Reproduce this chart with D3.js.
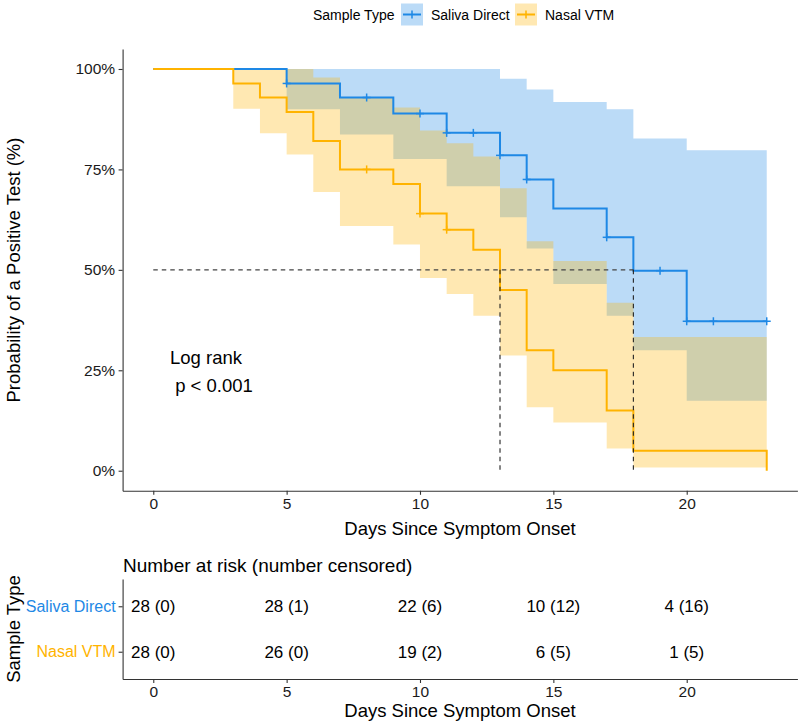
<!DOCTYPE html>
<html><head><meta charset="utf-8">
<script src="https://cdn.jsdelivr.net/npm/d3@7"></script>
<style>body{margin:0;background:#fff} svg{display:block;font-family:"Liberation Sans",Arial,Helvetica,sans-serif}</style>
</head><body><svg id="c" width="800" height="724"></svg>
<script>
// ---------------- data ----------------
const strata = ["Saliva Direct", "Nasal VTM"];
const colors = ["#1E88E5", "#FFB300"];

const salivaTime  = [0, 5, 7, 9, 11, 13, 14, 15, 17, 18, 20, 23];
const salivaSurv  = [1, 0.964, 0.929, 0.889, 0.841, 0.785, 0.725, 0.653, 0.581, 0.498, 0.372, 0.372];
const salivaUpper = [1, 1, 1, 1, 1, 0.976, 0.949, 0.918, 0.90, 0.827, 0.798, 0.798];
const salivaLower = [1, 0.90, 0.837, 0.776, 0.708, 0.631, 0.553, 0.465, 0.386, 0.30, 0.174, 0.174];
const salivaCensor = [5, 8, 10, 11, 12, 13, 14, 17, 19, 20, 21, 23];

const nasalTime  = [0, 3, 4, 5, 6, 7, 9, 10, 11, 12, 13, 14, 15, 17, 18, 23];
const nasalSurv  = [1, 0.964, 0.929, 0.893, 0.821, 0.75, 0.714, 0.64, 0.60, 0.55, 0.45, 0.30, 0.25, 0.15, 0.05, 0];
const nasalUpper = [1, 1, 1, 1, 0.979, 0.93, 0.904, 0.847, 0.815, 0.782, 0.703, 0.571, 0.522, 0.418, 0.333, 0.333];
const nasalLower = [1, 0.901, 0.840, 0.787, 0.694, 0.609, 0.563, 0.480, 0.44, 0.386, 0.287, 0.158, 0.120, 0.055, 0.008, 0.008];
const nasalCensor = [8, 10, 11];

const medianTimes = [13, 18];

const xTicks = [0, 5, 10, 15, 20];
const yTicks = [0, 0.25, 0.5, 0.75, 1];

const riskTimes = [0, 5, 10, 15, 20];
const salivaAtRisk = [28, 28, 22, 10, 4];
const salivaCensored = [0, 1, 6, 12, 16];
const nasalAtRisk = [28, 26, 19, 6, 1];
const nasalCensored = [0, 0, 2, 5, 5];

// ---------------- build ----------------
const series = [
  {name: strata[0], color: colors[0], t: salivaTime, s: salivaSurv, u: salivaUpper, l: salivaLower, c: salivaCensor},
  {name: strata[1], color: colors[1], t: nasalTime, s: nasalSurv, u: nasalUpper, l: nasalLower, c: nasalCensor}
];
const svg = d3.select("#c");
const axisCol = "#333333";

const x = d3.scaleLinear().domain([-1.15, 24.15]).range([122.6, 797.4]);
const y = d3.scaleLinear().domain([-0.05, 1.05]).range([490.8, 48.9]);

function survAt(sr, t) {
  let v = sr.s[0];
  for (let i = 0; i < sr.t.length; i++) if (sr.t[i] <= t) v = sr.s[i];
  return v;
}

// ribbons
series.forEach(sr => {
  const pts = sr.t.map((t, i) => ({t, u: sr.u[i], l: sr.l[i]}));
  const area = d3.area().x(d => x(d.t)).y0(d => y(d.l)).y1(d => y(d.u)).curve(d3.curveStepAfter);
  svg.append("path").attr("d", area(pts)).attr("fill", sr.color).attr("fill-opacity", 0.3);
});

// lines
series.forEach(sr => {
  const pts = sr.t.map((t, i) => ({t, s: sr.s[i]}));
  const line = d3.line().x(d => x(d.t)).y(d => y(d.s)).curve(d3.curveStepAfter);
  svg.append("path").attr("d", line(pts)).attr("fill", "none").attr("stroke", sr.color).attr("stroke-width", 2);
});

// censor marks
series.forEach(sr => {
  const g = svg.append("g").attr("stroke", sr.color).attr("stroke-width", 1.5);
  sr.c.forEach(t => {
    const cx = x(t), cy = y(survAt(sr, t));
    g.append("line").attr("x1", cx - 4).attr("x2", cx + 4).attr("y1", cy).attr("y2", cy);
    g.append("line").attr("x1", cx).attr("x2", cx).attr("y1", cy - 4).attr("y2", cy + 4);
  });
});

// median lines
svg.append("line").attr("x1", x(0)).attr("x2", x(d3.max(medianTimes))).attr("y1", y(0.5)).attr("y2", y(0.5))
  .attr("stroke", "#444").attr("stroke-width", 1.1).attr("stroke-dasharray", "4.5,4");
medianTimes.forEach(t => {
  svg.append("line").attr("x1", x(t)).attr("x2", x(t)).attr("y1", y(0.5)).attr("y2", y(0))
    .attr("stroke", "#222").attr("stroke-width", 1.1).attr("stroke-dasharray", "4.5,4");
});

// axes
function styleAxis(g, fs) {
  g.selectAll("path.domain").attr("stroke", axisCol).attr("stroke-width", 1.1);
  g.selectAll(".tick line").attr("stroke", axisCol).attr("stroke-width", 1.1);
  g.selectAll(".tick text").attr("fill", "#1a1a1a").style("font-size", fs + "px").style("font-family", "'Liberation Sans',Arial,sans-serif");
}
const gx = svg.append("g").attr("transform", "translate(0,490.8)")
  .call(d3.axisBottom(x).tickValues(xTicks).tickSize(4).tickSizeOuter(0).tickPadding(3));
styleAxis(gx, 15.5);
const gy = svg.append("g").attr("transform", "translate(122.6,0)")
  .call(d3.axisLeft(y).tickValues(yTicks).tickFormat(d3.format(".0%")).tickSize(4).tickSizeOuter(0).tickPadding(3.5));
styleAxis(gy, 15.5);

svg.append("text").attr("x", 460).attr("y", 535).attr("text-anchor", "middle")
  .style("font-size", "18.5px").attr("fill", "#000").text("Days Since Symptom Onset");
svg.append("text").attr("transform", "translate(20,270) rotate(-90)").attr("text-anchor", "middle")
  .style("font-size", "18.5px").attr("fill", "#000").text("Probability of a Positive Test (%)");

// p-value
svg.append("text").attr("x", 170).attr("y", 364).style("font-size", "18.5px").text("Log rank");
svg.append("text").attr("x", 170).attr("y", 391.5).style("font-size", "18.5px").attr("xml:space", "preserve").text(" p < 0.001");

// legend
const lg = svg.append("g");
lg.append("text").attr("x", 313).attr("y", 19.5).style("font-size", "14px").text("Sample Type");
const legX = [401, 515], legTX = [431, 545];
series.forEach((sr, i) => {
  lg.append("rect").attr("x", legX[i]).attr("y", 3.5).attr("width", 22).attr("height", 22)
    .attr("fill", sr.color).attr("fill-opacity", 0.3);
  lg.append("line").attr("x1", legX[i] + 2).attr("x2", legX[i] + 20).attr("y1", 14.5).attr("y2", 14.5)
    .attr("stroke", sr.color).attr("stroke-width", 2);
  lg.append("line").attr("x1", legX[i] + 11).attr("x2", legX[i] + 11).attr("y1", 10.5).attr("y2", 18.5)
    .attr("stroke", sr.color).attr("stroke-width", 1.5);
  lg.append("text").attr("x", legTX[i]).attr("y", 19.5).style("font-size", "14px").text(sr.name);
});

// ---------------- risk table ----------------
const x2 = d3.scaleLinear().domain([-1.15, 24.15]).range([122.6, 797.4]);
const ry = d3.scalePoint().domain(strata).range([579, 679]).padding(0.6);
svg.append("text").attr("x", 123).attr("y", 572).style("font-size", "19px").text("Number at risk (number censored)");

const riskRows = [
  {name: strata[0], atRisk: salivaAtRisk, cens: salivaCensored, color: colors[0]},
  {name: strata[1], atRisk: nasalAtRisk, cens: nasalCensored, color: colors[1]}
];
riskRows.forEach(r => {
  riskTimes.forEach((t, i) => {
    svg.append("text").attr("x", x2(t)).attr("y", ry(r.name)).attr("dy", "0.36em")
      .attr("text-anchor", "middle").style("font-size", "17px").attr("fill", "#000")
      .text(`${r.atRisk[i]} (${r.cens[i]})`);
  });
});
const gx2 = svg.append("g").attr("transform", "translate(0,679)")
  .call(d3.axisBottom(x2).tickValues(xTicks).tickSize(4).tickSizeOuter(0).tickPadding(3));
styleAxis(gx2, 15.5);
const gy2 = svg.append("g").attr("transform", "translate(122.6,0)")
  .call(d3.axisLeft(ry).tickSize(4).tickSizeOuter(0).tickPadding(3));
styleAxis(gy2, 16);
gy2.selectAll(".tick text").attr("fill", (d, i) => colors[i]);
svg.append("text").attr("x", 460).attr("y", 717).attr("text-anchor", "middle")
  .style("font-size", "18.5px").attr("fill", "#000").text("Days Since Symptom Onset");
svg.append("text").attr("transform", "translate(20,629) rotate(-90)").attr("text-anchor", "middle")
  .style("font-size", "18.5px").attr("fill", "#000").text("Sample Type");
</script></body></html>
